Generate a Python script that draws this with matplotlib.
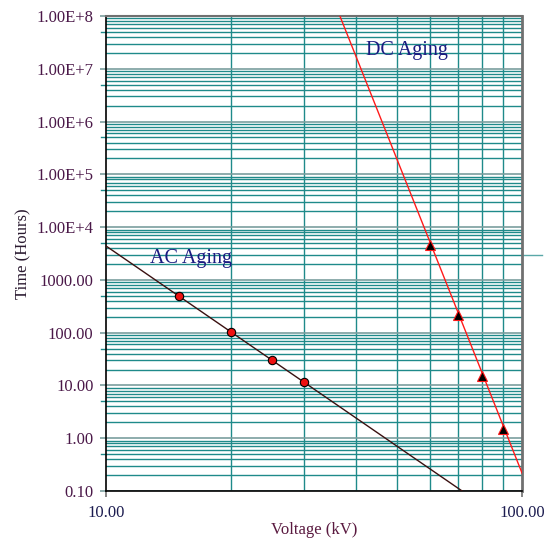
import numpy as np
import matplotlib
matplotlib.use("Agg")
import matplotlib.pyplot as plt
from matplotlib.ticker import FixedLocator, FuncFormatter

plt.rcParams['font.family'] = ['Liberation Serif', 'DejaVu Serif']

# AC aging test points and fitted line (kV, hours)
ac_v = [15, 20, 25, 30]
ac_t = [500, 105, 31, 11.5]
ac_line_v = [10, 71.8]
ac_line_t = [4400, 0.1]

# DC aging test points and fitted line
dc_v = [60, 70, 80, 90]
dc_t = [4600, 220, 15, 1.5]
dc_line_v = [36.5, 100]
dc_line_t = [1e8, 0.22]

fig = plt.figure(figsize=(5.59, 5.40), dpi=100)
ax = fig.add_axes([0.1896, 0.0907, 0.7442, 0.8796])
ax.set_xscale('log')
ax.set_yscale('log')
ax.set_xlim(10, 100)
ax.set_ylim(0.1, 1e8)

teal = '#1f8a8a'
major_c = '#7a9e9e'

# grid
xminor = [20, 30, 40, 50, 60, 70, 80, 90]
yminor = [m * 10.0 ** k for k in range(-1, 8) for m in range(2, 10)]
ydec = [10.0 ** k for k in range(-1, 9)]
ax.xaxis.set_major_locator(FixedLocator([10, 100]))
ax.xaxis.set_minor_locator(FixedLocator(xminor))
ax.yaxis.set_major_locator(FixedLocator(ydec))
ax.yaxis.set_minor_locator(FixedLocator(yminor))
ax.grid(True, which='minor', color=teal, lw=1.0)
ax.grid(True, which='major', axis='y', color=major_c, lw=1.2)
ax.set_axisbelow(True)


def yfmt(v, pos):
    if v >= 1e4:
        return "1.00E+%d" % round(np.log10(v))
    return "%.2f" % v


ax.yaxis.set_major_formatter(FuncFormatter(yfmt))
ax.xaxis.set_major_formatter(FuncFormatter(lambda v, p: "%.2f" % v))
ax.xaxis.set_minor_formatter(FuncFormatter(lambda v, p: ""))
ax.yaxis.set_minor_formatter(FuncFormatter(lambda v, p: ""))

ax.tick_params(axis='y', which='major', length=4, color=major_c, width=1.2,
               labelsize=12, labelcolor='#4a1848', pad=5)
ax.tick_params(axis='x', which='major', length=4, color='#707070', width=1.2,
               labelsize=12, labelcolor='#1c1c50', pad=6)
ax.tick_params(which='minor', length=0)

# 5x tick marks on the left
trans = ax.get_yaxis_transform()
for k in range(-1, 8):
    ax.plot([-0.013, 0], [5 * 10.0 ** k] * 2, transform=trans, color=teal,
            lw=1, clip_on=False)

ax.spines['left'].set_color('black')
ax.spines['bottom'].set_color('black')
ax.spines['left'].set_linewidth(1.2)
ax.spines['bottom'].set_linewidth(1.2)
ax.spines['top'].set_color('#707070')
ax.spines['right'].set_color('#707070')
ax.spines['top'].set_linewidth(1.5)
ax.spines['right'].set_linewidth(2)

# stray gridline stub on the right
ax.plot([100, 112], [3000, 3000], color='#5aa8a8', lw=1, clip_on=False)

ax.plot(ac_line_v, ac_line_t, color='#3a1010', lw=1, zorder=3)
ax.plot(ac_v, ac_t, 'o', ms=6, mfc='#ee1111', mec='black', mew=0.8, zorder=4)
ax.plot(dc_line_v, dc_line_t, color='#ff1a1a', lw=1, zorder=3)
ax.plot(dc_v, dc_t, '^', ms=7, mfc='black', mec='#ff1a1a', mew=0.8, zorder=4)

ax.text(12.76, 2570, "AC Aging", fontsize=14.5, color='#1a1a80', va='center')
ax.text(42.2, 2.24e7, "DC Aging", fontsize=14.5, color='#1a1a80', va='center')

ax.set_ylabel("Time (Hours)", fontsize=12, color='#2a1a30', labelpad=4)
ax.set_xlabel("Voltage (kV)", fontsize=12, color='#5a1a40', labelpad=1)

fig.savefig("out.png", dpi=100)
